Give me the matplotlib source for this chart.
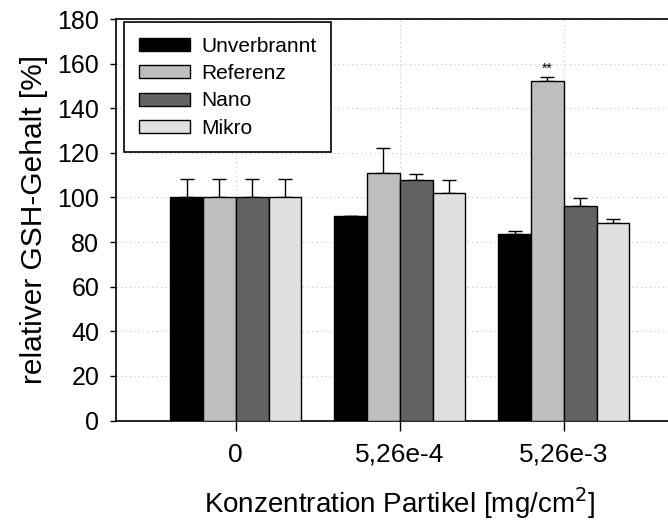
import matplotlib
matplotlib.use('Agg')
import matplotlib.pyplot as plt
import numpy as np

plt.rcParams['font.family'] = ['Liberation Sans', 'DejaVu Sans']

groups = ['0', '5,26e-4', '5,26e-3']
series = ['Unverbrannt', 'Referenz', 'Nano', 'Mikro']
unverbrannt = [100, 91.5, 83.8]
referenz = [100, 111, 152]
nano = [100, 107.7, 96.2]
mikro = [100, 102, 88.4]
err_unverbrannt = [8.4, 0, 1.2]
err_referenz = [8.4, 11, 2]
err_nano = [8.4, 3, 3.4]
err_mikro = [8.4, 6, 2.1]
colors = ['#000000', '#bebebe', '#636363', '#e0e0e0']
marks = {(2, 1): '**'}

values = [unverbrannt, referenz, nano, mikro]
errors = [err_unverbrannt, err_referenz, err_nano, err_mikro]

fig = plt.figure(figsize=(6.68, 5.22), dpi=100)
ax = fig.add_axes([0.1737, 0.1943, 0.8494, 0.7693])

x = np.arange(len(groups))
width = 0.2
for i, (name, vals, errs) in enumerate(zip(series, values, errors)):
    pos = x + (i - 1.5) * width
    ax.bar(pos, vals, width, color=colors[i], edgecolor='black', linewidth=1.0,
           label=name, zorder=3)
    ax.errorbar(pos, vals, yerr=[np.zeros(len(errs)), errs], fmt='none',
                ecolor='black', elinewidth=1.0, capsize=5, capthick=1.0, zorder=2)

# significance stars
for (g, s), txt in marks.items():
    pos = x[g] + (s - 1.5) * width
    top = values[s][g] + errors[s][g]
    ax.text(pos, top + 0.5, txt, ha='center', va='bottom', fontsize=10)

ax.set_xlim(-0.73, 2.73)
ax.set_ylim(0, 180)
ax.set_yticks(np.arange(0, 181, 20))
ax.set_xticks(x)
ax.set_xticklabels(groups)
ax.tick_params(axis='y', labelsize=18, length=4, width=1, pad=8)
ax.tick_params(axis='x', labelsize=19, length=7, width=1, pad=9)
ax.grid(True, linestyle=(0, (1, 3)), color='#c8c8c8', linewidth=0.8, zorder=0)
ax.set_axisbelow(True)
for sp in ax.spines.values():
    sp.set_linewidth(1.2)

ax.set_ylabel('relativer GSH-Gehalt [%]', fontsize=21.5, labelpad=7)
ax.set_xlabel('Konzentration Partikel [mg/cm$^2$]', fontsize=20, labelpad=13)

leg = ax.legend(loc='upper left', bbox_to_anchor=(0.014, 0.992), borderaxespad=0,
                fontsize=15, handlelength=2.45, handleheight=0.6, labelspacing=0.4,
                handletextpad=0.55, borderpad=0.7, fancybox=False, framealpha=1,
                edgecolor='black')
leg.get_frame().set_linewidth(1.2)

fig.savefig('out.png', dpi=100)
